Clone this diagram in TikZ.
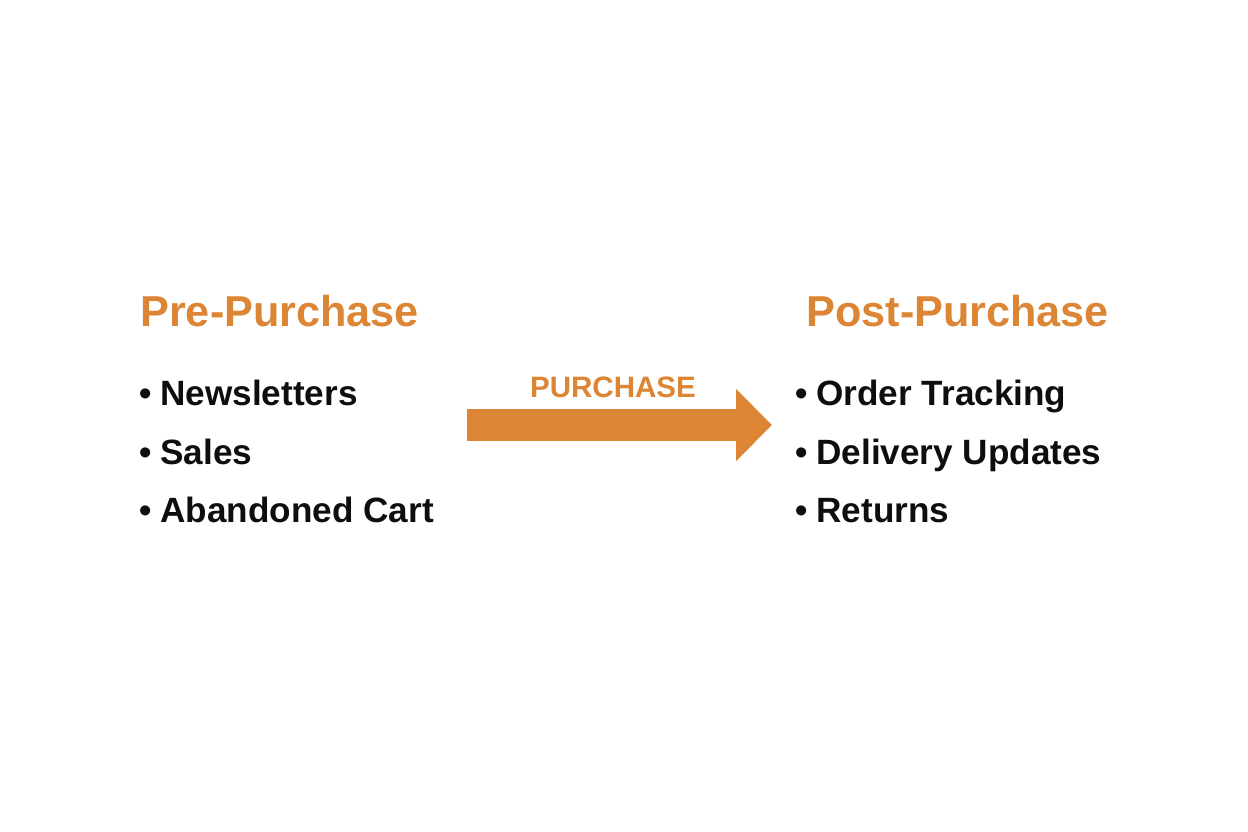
\documentclass[tikz,border=0pt]{standalone}
\usepackage{fontspec}
\setmainfont{Liberation Sans}
\usetikzlibrary{positioning,arrows.meta}
\definecolor{amber}{RGB}{220,133,52}
\definecolor{ink}{RGB}{14,14,14}
\tikzset{
  heading/.style={anchor=base west,inner sep=0pt,text=amber,font=\fontsize{24.6}{28}\selectfont\bfseries},
  bulletitem/.style={anchor=base west,inner sep=0pt,text=ink,font=\fontsize{20}{24}\selectfont\bfseries},
  buytag/.style={anchor=base,inner sep=0pt,text=amber,font=\fontsize{16.8}{20}\selectfont\bfseries}
}

\begin{document}
\begin{tikzpicture}[x=0.02cm,y=-0.02cm]
        \useasboundingbox (0,0) rectangle (1248,832);
        % pre-purchase column
        \node[heading] (pre) at (140,326) {Pre-Purchase};
        \node[bulletitem] (news) at (139,405.5) {\textbullet\hspace{0.25em}Newsletters};
        \node[bulletitem] (sales) at (139,464) {\textbullet\hspace{0.25em}Sales};
        \node[bulletitem] (cart) at (139,522) {\textbullet\hspace{0.25em}Abandoned Cart};
        % post-purchase column
        \node[heading] (post) at (806,326) {Post-Purchase};
        \node[bulletitem] (track) at (795,405.5) {\textbullet\hspace{0.25em}Order Tracking};
        \node[bulletitem] (deliv) at (795,464) {\textbullet\hspace{0.25em}Delivery Updates};
        \node[bulletitem] (ret) at (795,522) {\textbullet\hspace{0.25em}Returns};
        % the purchase step
        \coordinate (buyL) at (467,425);
        \coordinate (buyR) at (772,425);
        \node[buytag] (buy) at (613,397) {PURCHASE};
        \draw[amber,line width=0.64cm,-{Triangle[length=0.72cm,width=1.4cm]}] (buyL) -- (buyR);
      \end{tikzpicture}
\end{document}
